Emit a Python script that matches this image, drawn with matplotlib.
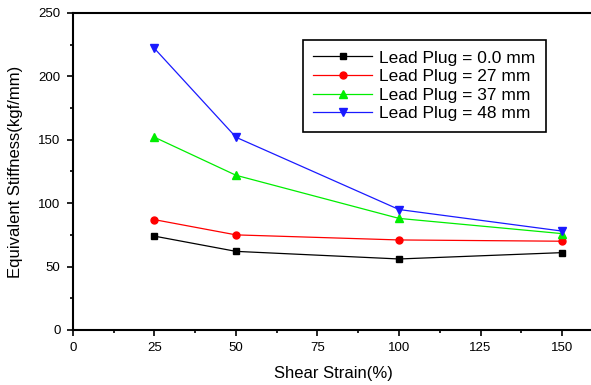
import matplotlib
matplotlib.use("Agg")
import matplotlib.pyplot as plt
from matplotlib.ticker import MultipleLocator

plt.rcParams['font.family'] = ['Liberation Sans', 'DejaVu Sans']

strain = [25, 50, 100, 150]
plug_0 = [74, 62, 56, 61]
plug_27 = [87, 75, 71, 70]
plug_37 = [152, 122, 88, 76]
plug_48 = [222, 152, 95, 78]
labels = ['Lead Plug = 0.0 mm', 'Lead Plug = 27 mm', 'Lead Plug = 37 mm', 'Lead Plug = 48 mm']

fig = plt.figure(figsize=(5.91, 3.85), dpi=100)
ax = fig.add_axes([0.1235, 0.1429, 0.8826, 0.8234])

ax.plot(strain, plug_0, color='black', marker='s', ms=5, lw=0.9, label=labels[0])
ax.plot(strain, plug_27, color='red', marker='o', ms=5, lw=0.9, label=labels[1])
ax.plot(strain, plug_37, color='#00ee00', marker='^', ms=5.5, lw=0.9, label=labels[2])
ax.plot(strain, plug_48, color='#1a1aff', marker='v', ms=5.5, lw=0.9, label=labels[3])

ax.set_xlim(0, 160)
ax.set_ylim(0, 250)
ax.xaxis.set_major_locator(MultipleLocator(25))
ax.xaxis.set_minor_locator(MultipleLocator(12.5))
ax.yaxis.set_major_locator(MultipleLocator(50))
ax.yaxis.set_minor_locator(MultipleLocator(25))
ax.tick_params(which='major', direction='out', length=4, width=1.2, labelsize=9.5, pad=5)
ax.tick_params(which='minor', direction='out', length=2, width=1.2)
for s in ax.spines.values():
    s.set_linewidth(1.5)

ax.set_xlabel('Shear Strain(%)', fontsize=12, labelpad=8)
ax.set_ylabel('Equivalent Stiffness(kgf/mm)', fontsize=12, labelpad=11)

leg = ax.legend(loc='upper left', bbox_to_anchor=(303 / 591, 1 - 40 / 385),
                bbox_transform=fig.transFigure, fancybox=False, edgecolor='black',
                fontsize=12.5, handlelength=3.4, labelspacing=0.2, borderpad=0.6,
                handletextpad=0.4, borderaxespad=0, framealpha=1)
leg.get_frame().set_linewidth(1.2)

fig.savefig('out.png', dpi=100)
